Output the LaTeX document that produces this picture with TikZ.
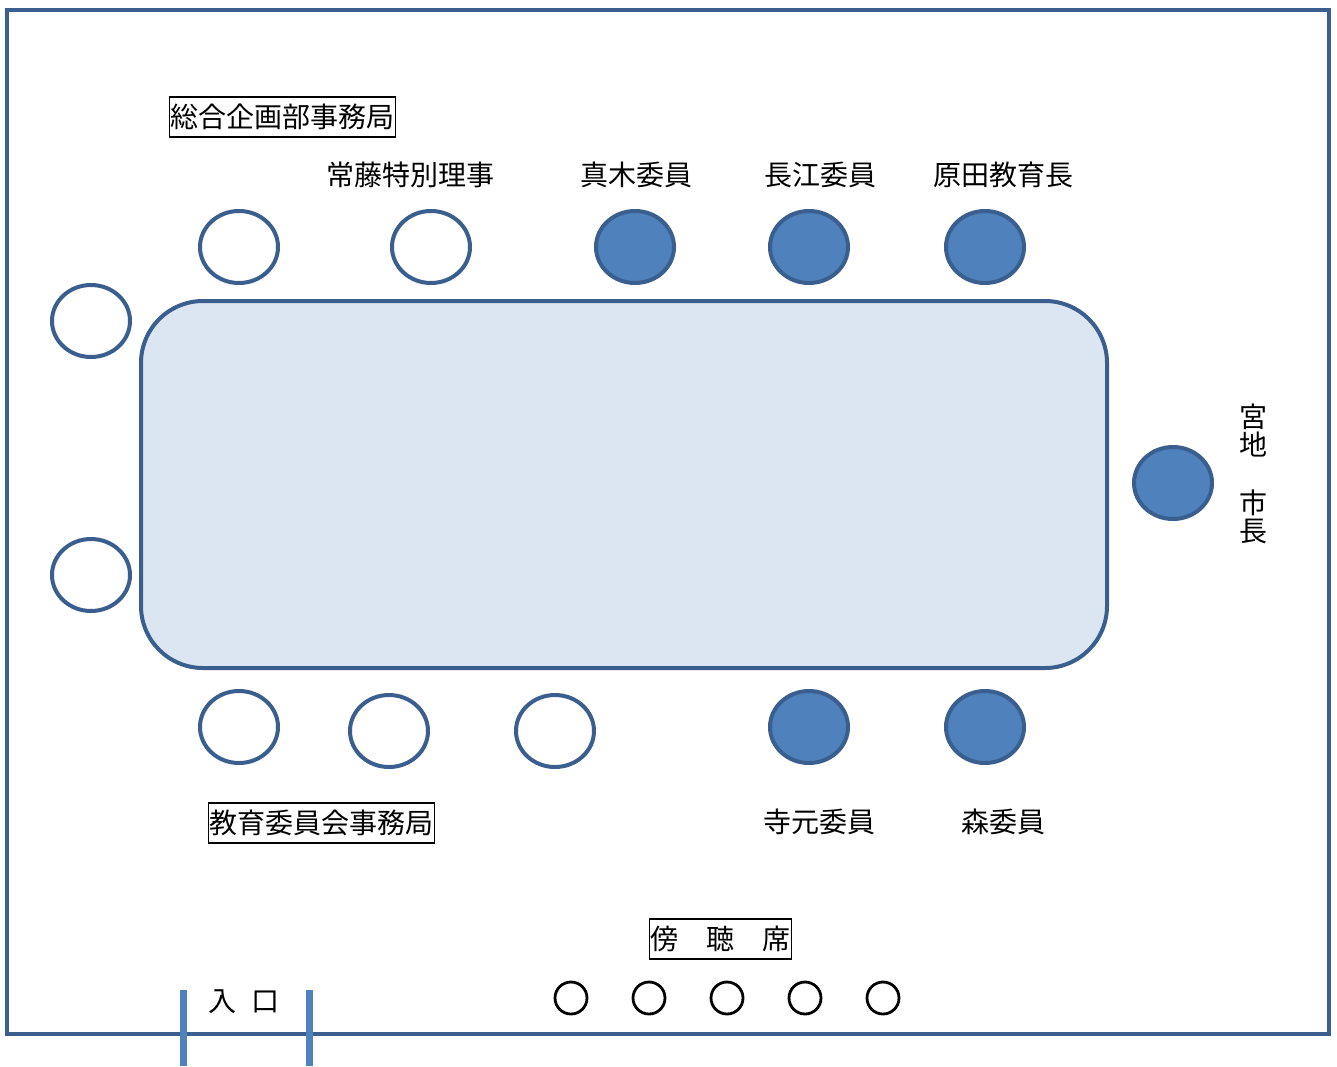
\documentclass[tikz,border=0pt]{standalone}
\usepackage{fontspec}
\setmainfont{Noto Sans CJK JP}
\usetikzlibrary{shapes.geometric}
\definecolor{frameblue}{HTML}{3A5F8F}
\definecolor{seatblue}{HTML}{4F81BD}
\definecolor{tablefill}{HTML}{DCE6F2}
\tikzset{
  seat/.style={ellipse, draw=frameblue, line width=4pt, minimum width=78pt, minimum height=72pt, inner sep=0pt},
  emptyseat/.style={seat, fill=white},
  fullseat/.style={seat, fill=seatblue},
  lbl/.style={font=\fontsize{28}{28}\selectfont, inner sep=0pt, text=black},
  boxlbl/.style={lbl, draw=black, line width=1.8pt, inner xsep=1pt, inner ysep=7pt},
  gallery/.style={circle, draw=black, line width=2.8pt, minimum size=32pt, inner sep=0pt},
  door/.style={draw=seatblue, line width=7pt},
}
\begin{document}
\begin{tikzpicture}[x=1pt,y=-1pt]
\useasboundingbox (0,0) rectangle (1337,1066);
% room
\draw[frameblue, line width=4pt] (7,10) rectangle (1329,1034);
% doors
\coordinate (d1t) at (183,990); \coordinate (d1b) at (183,1066);
\coordinate (d2t) at (309,990); \coordinate (d2b) at (309,1066);
\draw[door] (d1t) -- (d1b);
\draw[door] (d2t) -- (d2b);
\node[lbl] (entrance) at (244,1002) {入\hspace{15pt}口};
% table
\draw[frameblue, line width=4pt, fill=tablefill, rounded corners=62pt] (141,301) rectangle (1107,668);
% top seats
\node[emptyseat] (t1) at (239,247) {};
\node[emptyseat] (t2) at (431,247) {};
\node[fullseat] (t3) at (635,247) {};
\node[fullseat] (t4) at (809,247) {};
\node[fullseat] (t5) at (985,247) {};
% left seats
\node[emptyseat] (l1) at (91,321) {};
\node[emptyseat] (l2) at (91,575) {};
% bottom seats
\node[emptyseat] (b1) at (239,727) {};
\node[emptyseat] (b2) at (389,731) {};
\node[emptyseat] (b3) at (555,731) {};
\node[fullseat] (b4) at (809,727) {};
\node[fullseat] (b5) at (985,727) {};
% right seat
\node[fullseat] (r1) at (1173,483) {};
% labels
\node[boxlbl] (sogo) at (282.5,117) {総合企画部事務局};
\node[lbl] (tsune) at (410,175) {常藤特別理事};
\node[lbl] (maki) at (636,175) {真木委員};
\node[lbl] (nagae) at (820,175) {長江委員};
\node[lbl] (harada) at (1003,175) {原田教育長};
\node[lbl, align=center] (miya) at (1253,431) {宮\\地};
\node[lbl, align=center] (shicho) at (1253,517) {市\\長};
\node[boxlbl] (kyoiku) at (321.5,823) {教育委員会事務局};
\node[lbl] (teramoto) at (819,822) {寺元委員};
\node[lbl] (mori) at (1003,822) {森委員};
\node[boxlbl] (bocho) at (720.5,939) {傍　聴　席};
% gallery seats
\foreach \i/\x in {1/571,2/649,3/727,4/805,5/883}
  \node[gallery] (g\i) at (\x,998) {};
\end{tikzpicture}
\end{document}
